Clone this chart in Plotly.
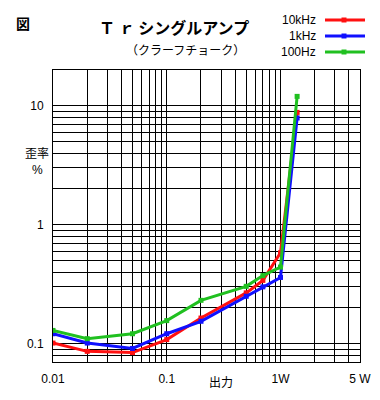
import plotly.graph_objects as go

# ---- data ----
power_w = [0.01, 0.02, 0.05, 0.1, 0.2, 0.5, 0.7, 1.0, 1.4]
dist_10k = [0.101, 0.086, 0.084, 0.108, 0.164, 0.267, 0.34, 0.58, 8.8]
dist_1k = [0.121, 0.101, 0.091, 0.121, 0.154, 0.25, 0.30, 0.36, 7.9]
dist_100 = [0.129, 0.110, 0.121, 0.156, 0.231, 0.303, 0.373, 0.44, 12.0]

series_names = ["10kHz", "1kHz", "100Hz"]
series_colors = ["#ff1010", "#1010ff", "#20c020"]

# grid / tick values
x_grid = [0.01, 0.02, 0.03, 0.04, 0.05, 0.06, 0.07, 0.08, 0.09,
          0.1, 0.2, 0.3, 0.4, 0.5, 0.6, 0.7, 0.8, 0.9,
          1, 2, 3, 4, 5]
x_labels = {0.01: "0.01", 0.1: "0.1", 1: "1W", 5: "5 W"}
y_grid = [0.07, 0.08, 0.09,
          0.1, 0.2, 0.3, 0.4, 0.5, 0.6, 0.7, 0.8, 0.9,
          1, 2, 3, 4, 5, 6, 7, 8, 9,
          10, 20]
y_labels = {0.1: "0.1", 1: "1", 10: "10"}

title_text = "Ｔ ｒ シングルアンプ"
subtitle_text = "（クラーフチョーク）"
fig_mark = "図"
y_title = ["歪率", "%"]
x_title = "出力"

# ---- layout geometry (pixels) ----
W, H = 380, 400
L, R, T, B = 53, 360, 70, 362


def px(x):
    return (x - L) / (R - L)


def py(y):
    return (B - y) / (B - T)


fig = go.Figure()
for name, color, vals in zip(series_names, series_colors, [dist_10k, dist_1k, dist_100]):
    fig.add_trace(go.Scatter(
        x=power_w, y=vals, mode="lines+markers", name=name,
        line=dict(color=color, width=3),
        marker=dict(symbol="square", size=5, color=color),
        showlegend=False,
    ))

font_main = "Liberation Sans, DejaVu Sans, sans-serif"
font_jp = "Noto Sans CJK JP, sans-serif"

fig.update_layout(
    width=W, height=H,
    margin=dict(l=L, r=W - R, t=T, b=H - B, pad=0),
    paper_bgcolor="white", plot_bgcolor="white",
    font=dict(family=font_main, size=12, color="black"),
    xaxis=dict(
        type="log", range=[-2, 0.69897], automargin=False,
        tickmode="array", tickvals=x_grid,
        ticktext=[x_labels.get(v, "") for v in x_grid],
        showgrid=True, gridcolor="black", gridwidth=1,
        showline=True, linecolor="black", linewidth=1, mirror=True,
        ticks="", zeroline=False, ticklabelstandoff=6,
        tickfont=dict(size=12),
    ),
    yaxis=dict(
        type="log", range=[-1.1549, 1.30103], automargin=False,
        tickmode="array", tickvals=y_grid,
        ticktext=[y_labels.get(v, "") for v in y_grid],
        showgrid=True, gridcolor="black", gridwidth=1,
        showline=True, linecolor="black", linewidth=1, mirror=True,
        ticks="", zeroline=False, ticklabelstandoff=6,
        tickfont=dict(size=12),
    ),
)

ann = []
ann.append(dict(text=fig_mark, x=px(23), y=py(23), xref="paper", yref="paper",
                showarrow=False, font=dict(family=font_jp, size=14, color="black", weight=700),
                xanchor="center", yanchor="middle"))
ann.append(dict(text=title_text, x=px(174), y=py(27), xref="paper", yref="paper",
                showarrow=False, font=dict(family=font_jp, size=16, color="black", weight=600),
                xanchor="center", yanchor="middle"))
ann.append(dict(text=subtitle_text, x=px(185), y=py(49), xref="paper", yref="paper",
                showarrow=False, font=dict(family=font_jp, size=12, color="black"),
                xanchor="center", yanchor="middle"))
ann.append(dict(text=y_title[0], x=px(37), y=py(152), xref="paper", yref="paper",
                showarrow=False, font=dict(family=font_jp, size=12, color="black"),
                xanchor="center", yanchor="middle"))
ann.append(dict(text=y_title[1], x=px(37), y=py(170), xref="paper", yref="paper",
                showarrow=False, font=dict(family=font_main, size=12, color="black"),
                xanchor="center", yanchor="middle"))
ann.append(dict(text=x_title, x=px(221), y=py(381), xref="paper", yref="paper",
                showarrow=False, font=dict(family=font_jp, size=12, color="black"),
                xanchor="center", yanchor="middle"))

shapes = []
legend_y = [20, 36, 52]
for name, color, ly in zip(series_names, series_colors, legend_y):
    ann.append(dict(text=name, x=px(318), y=py(ly), xref="paper", yref="paper",
                    showarrow=False, font=dict(family=font_main, size=12, color="black"),
                    xanchor="right", yanchor="middle"))
    shapes.append(dict(type="line", xref="paper", yref="paper",
                       x0=px(325), x1=px(365), y0=py(ly), y1=py(ly),
                       line=dict(color=color, width=3)))
    shapes.append(dict(type="rect", xref="paper", yref="paper",
                       x0=px(341.5), x1=px(346.5), y0=py(ly - 2.5), y1=py(ly + 2.5),
                       fillcolor=color, line=dict(width=0)))

fig.update_layout(annotations=ann, shapes=shapes)
fig.write_html(
    "out.html",
    config={"displayModeBar": False},
    post_script="document.body.style.margin='0';document.body.style.padding='0';",
)
